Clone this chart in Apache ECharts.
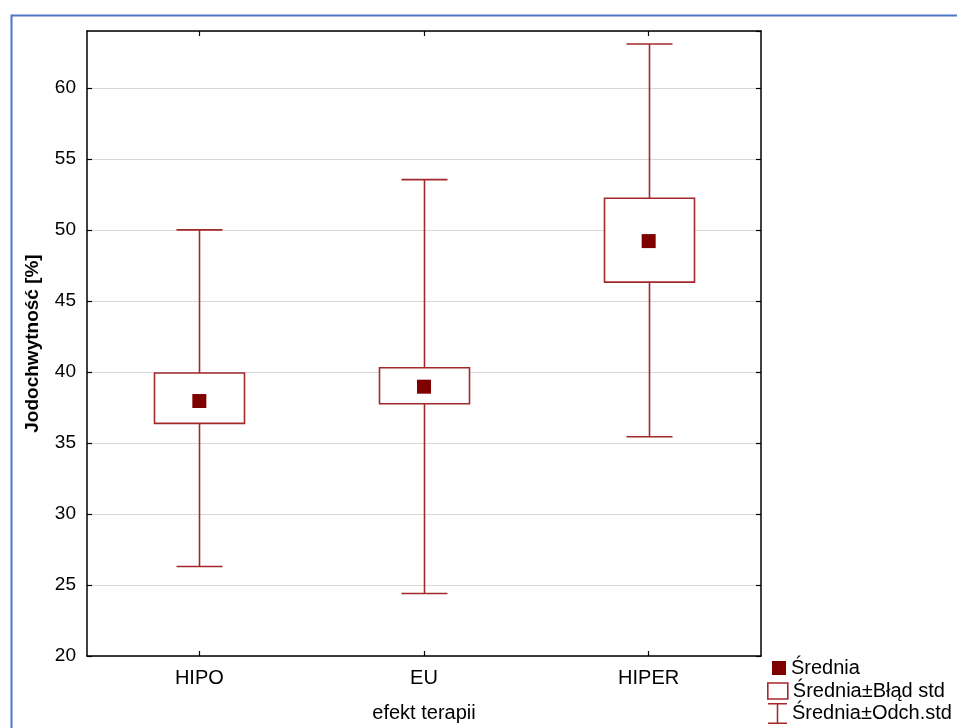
<!DOCTYPE html>
<html>
<head>
<meta charset="utf-8">
<script src="https://cdn.jsdelivr.net/npm/echarts@6/dist/echarts.min.js"></script>
<style>
html,body{margin:0;padding:0;background:#fff;}
#c{width:957px;height:728px;}
</style>
</head>
<body>
<div id="c"></div>
<script>
const categories = ['HIPO', 'EU', 'HIPER'];
const meanValues = [37.95, 38.96, 49.21];
const seLow = [36.38, 37.76, 46.32];
const seHigh = [39.92, 40.29, 52.23];
const sdLow = [26.3, 24.4, 35.44];
const sdHigh = [50.0, 53.54, 63.09];
const yTicks = [20, 25, 30, 35, 40, 45, 50, 55, 60];

const LINE = '#a3282a';
const MEAN = '#800000';
const FONT = "'Liberation Sans', Arial, sans-serif";

const boxData = categories.map((c, i) => [i, sdLow[i], seLow[i], seHigh[i], sdHigh[i]]);

function renderBox(params, api) {
  const x = api.value(0);
  const pLow = api.coord([x, api.value(1)]);
  const pBoxLow = api.coord([x, api.value(2)]);
  const pBoxHigh = api.coord([x, api.value(3)]);
  const pHigh = api.coord([x, api.value(4)]);
  const cx = Math.round(pLow[0]) + 0.5;
  const halfBox = 45;
  const halfCap = 23;
  const ls = { stroke: LINE, lineWidth: 1.6, fill: null };
  return {
    type: 'group',
    children: [
      { type: 'line', shape: { x1: cx, y1: pHigh[1], x2: cx, y2: pBoxHigh[1] }, style: ls },
      { type: 'line', shape: { x1: cx, y1: pBoxLow[1], x2: cx, y2: pLow[1] }, style: ls },
      { type: 'line', shape: { x1: cx - halfCap, y1: pHigh[1], x2: cx + halfCap, y2: pHigh[1] }, style: ls },
      { type: 'line', shape: { x1: cx - halfCap, y1: pLow[1], x2: cx + halfCap, y2: pLow[1] }, style: ls },
      { type: 'rect', shape: { x: cx - halfBox, y: pBoxHigh[1], width: 2 * halfBox, height: pBoxLow[1] - pBoxHigh[1] },
        style: { stroke: LINE, lineWidth: 1.6, fill: '#ffffff' } }
    ]
  };
}

const chart = echarts.init(document.getElementById('c'), null, { renderer: 'canvas' });
const axisLine = { show: true, lineStyle: { color: '#000', width: 1.5 } };
const tickStyle = { show: true, inside: true, length: 5, lineStyle: { color: '#000', width: 1.2 } };

chart.setOption({
  backgroundColor: '#fff',
  animation: false,
  textStyle: { fontFamily: FONT },
  graphic: [{
    type: 'rect', left: 9, top: 13, silent: true,
    shape: { x: 0, y: 0, width: 1000, height: 1000 },
    style: { fill: null, stroke: '#4a76c6', lineWidth: 2 }
  }],
  grid: { left: 87, right: 196, top: 31, bottom: 70.5, containLabel: false },
  xAxis: [{
    type: 'category', data: categories, position: 'bottom',
    axisLine: axisLine,
    axisTick: Object.assign({ alignWithLabel: true }, tickStyle),
    axisLabel: { color: '#000', fontSize: 20, margin: 12, fontFamily: FONT },
    name: 'efekt terapii', nameLocation: 'middle', nameGap: 47,
    nameTextStyle: { color: '#000', fontSize: 20, fontFamily: FONT },
    splitLine: { show: false }
  }, {
    type: 'category', data: categories, position: 'top',
    axisLine: axisLine,
    axisTick: Object.assign({ alignWithLabel: true }, tickStyle),
    axisLabel: { show: false }, splitLine: { show: false }
  }],
  yAxis: [{
    type: 'value', min: 20, max: 64, interval: 5, position: 'left',
    axisLine: axisLine, axisTick: tickStyle,
    axisLabel: { color: '#000', fontSize: 19, margin: 11, fontFamily: FONT, showMaxLabel: false,
      formatter: v => (yTicks.indexOf(v) >= 0 ? String(v) : '') },
    splitLine: { show: true, lineStyle: { color: '#d9d9d9', width: 1.2 } },
    name: 'Jodochwytność [%]', nameLocation: 'middle', nameGap: 45,
    nameTextStyle: { color: '#000', fontSize: 19, fontWeight: 'bold', fontFamily: FONT }
  }, {
    type: 'value', min: 20, max: 64, interval: 5, position: 'right',
    axisLine: axisLine, axisTick: tickStyle,
    axisLabel: { show: false }, splitLine: { show: false }
  }],
  legend: [{
    orient: 'vertical', left: 772, top: 658, padding: 0,
    itemWidth: 14, itemHeight: 14,
    textStyle: { color: '#000', fontSize: 20, fontFamily: FONT },
    data: [{ name: 'Średnia', icon: 'rect' }]
  }, {
    orient: 'vertical', left: 767, top: 681, padding: 0,
    itemWidth: 20, itemHeight: 16,
    textStyle: { color: '#000', fontSize: 20, fontFamily: FONT },
    data: [{ name: 'Średnia±Błąd std', icon: 'rect',
      itemStyle: { color: '#ffffff', borderColor: LINE, borderWidth: 1.6 } }]
  }, {
    orient: 'vertical', left: 768, top: 703, padding: 0,
    itemWidth: 19, itemHeight: 21,
    textStyle: { color: '#000', fontSize: 20, fontFamily: FONT },
    data: [{ name: 'Średnia±Odch.std',
      icon: 'path://M0,0h20v1.6h-20z M9.2,0h1.6v22h-1.6z M0,20.4h20v1.6h-20z',
      itemStyle: { color: LINE } }]
  }],
  series: [{
    name: 'Średnia±Odch.std', type: 'custom', renderItem: renderBox,
    data: boxData, z: 2, itemStyle: { color: LINE },
    encode: { x: 0, y: [1, 2, 3, 4] }
  }, {
    name: 'Średnia±Błąd std', type: 'custom',
    renderItem: () => ({ type: 'group', children: [] }),
    data: [], itemStyle: { color: '#fff', borderColor: LINE }
  }, {
    name: 'Średnia', type: 'scatter', symbol: 'rect', symbolSize: 14,
    data: meanValues.map((v, i) => [i, v]), z: 5,
    itemStyle: { color: MEAN, opacity: 1 }
  }]
});
</script>
</body>
</html>
